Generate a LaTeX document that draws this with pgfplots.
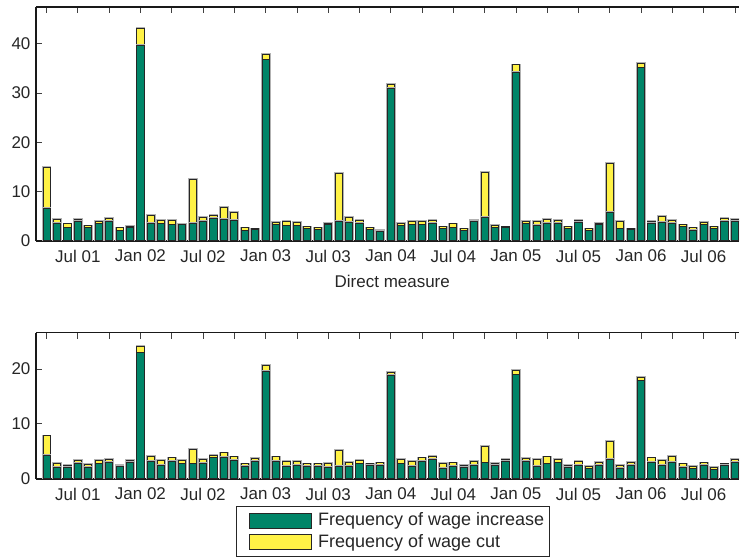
\documentclass[border=0pt]{standalone}
\usepackage{fontspec}
\setmainfont{Liberation Sans}
\usepackage{pgfplots}
\usepackage{pgfplotstable}
\pgfplotsset{compat=1.18}
\definecolor{incgreen}{RGB}{0,133,104}
\definecolor{cutyellow}{RGB}{255,242,70}

\pgfplotstableread{
i inc cut
0 6.6 8.3
1 3.6 0.8
2 2.6 0.8
3 3.9 0.4
4 2.6 0.4
5 3.4 0.6
6 3.9 0.6
7 2.0 0.6
8 2.6 0.3
9 39.7 3.4
10 3.6 1.6
11 3.4 0.7
12 3.2 0.9
13 3.3 0.1
14 3.6 8.9
15 4.0 0.8
16 4.6 0.5
17 4.4 2.4
18 4.1 1.6
19 2.0 0.6
20 2.2 0.2
21 36.7 1.2
22 3.2 0.6
23 3.0 0.9
24 3.0 0.7
25 2.4 0.4
26 2.2 0.4
27 3.2 0.3
28 3.9 9.7
29 3.8 1.0
30 3.6 0.5
31 2.2 0.4
32 1.9 0.2
33 31.0 0.7
34 3.0 0.6
35 3.2 0.8
36 3.2 0.7
37 3.6 0.5
38 2.4 0.4
39 2.6 0.8
40 2.0 0.4
41 4.0 0.2
42 4.8 9.1
43 2.6 0.5
44 2.6 0.2
45 34.1 1.6
46 3.4 0.45
47 3.1 0.9
48 3.5 0.8
49 3.6 0.6
50 2.4 0.4
51 3.7 0.5
52 2.0 0.4
53 3.2 0.3
54 5.7 10.0
55 2.4 1.5
56 2.2 0.2
57 35.1 0.9
58 3.6 0.4
59 3.65 1.25
60 3.5 0.55
61 2.8 0.4
62 2.1 0.5
63 3.2 0.5
64 2.4 0.4
65 4.0 0.5
66 4.0 0.4
}\toptable

\pgfplotstableread{
i inc cut
0 4.3 3.5
1 2.1 0.7
2 2.0 0.5
3 2.8 0.6
4 2.0 0.6
5 2.7 0.6
6 3.0 0.6
7 2.2 0.3
8 3.0 0.4
9 22.9 1.2
10 3.2 0.9
11 2.4 0.9
12 3.1 0.7
13 2.7 0.7
14 2.7 2.6
15 2.8 0.8
16 3.8 0.4
17 3.9 0.8
18 3.3 0.7
19 2.2 0.5
20 3.2 0.5
21 19.6 1.0
22 3.2 0.8
23 2.3 0.8
24 2.4 0.7
25 2.2 0.5
26 2.2 0.5
27 2.1 0.7
28 2.2 3.0
29 2.3 0.7
30 2.7 0.6
31 2.4 0.3
32 2.4 0.5
33 18.8 0.5
34 2.7 0.9
35 2.3 0.8
36 3.2 0.6
37 3.6 0.5
38 1.9 0.9
39 2.2 0.7
40 2.1 0.4
41 2.5 0.7
42 2.9 3.0
43 2.4 0.45
44 3.2 0.4
45 18.9 0.9
46 3.1 0.6
47 2.2 1.4
48 2.7 1.3
49 2.9 0.6
50 2.1 0.4
51 2.5 0.7
52 1.8 0.4
53 2.4 0.6
54 3.6 3.2
55 1.9 0.6
56 2.5 0.5
57 17.8 0.7
58 3.0 0.8
59 2.4 0.9
60 3.0 1.1
61 2.1 0.6
62 1.8 0.4
63 2.4 0.5
64 1.6 0.5
65 2.4 0.3
66 3.0 0.6
}\bottable

\pgfplotsset{
  panel/.style={
    scale only axis, width=704pt, anchor=south west,
    xmin=-1.02, xmax=66.41, ymin=0,
    axis x line*=box, axis y line*=left,
    ybar stacked, bar width=7.2pt,
    xtick={3,9,...,63},
    xticklabels={Jul 01,Jan 02,Jul 02,Jan 03,Jul 03,Jan 04,Jul 04,Jan 05,Jul 05,Jan 06,Jul 06},
    minor xtick={0,6,...,66},
    xtick pos=right, xticklabel pos=left,
    ytick pos=left,
    tick align=inside,
    major tick length=6.5pt, minor tick length=6.5pt,
    every tick/.style={black!75, line width=0.8pt},
    axis line style={line width=1.6pt, black!90, -},
    ticklabel style={font=\fontsize{17}{20}\selectfont, text=black!85},
    xticklabel style={yshift=-5.6pt},
    yticklabel style={xshift=-2pt},
    /pgf/number format/assume math mode=true,
  },
  incstyle/.style={fill=incgreen, draw=black!85, line width=1pt,
    preaction={draw=black!30, line width=2.6pt}, forget plot},
  cutstyle/.style={fill=cutyellow, draw=black!85, line width=1pt,
    preaction={draw=black!30, line width=2.6pt}, forget plot},
  legpatch/.style={legend image code/.code={
    \path[draw=none, fill=none] (0pt,-10.85pt) rectangle (75.8pt,10.85pt);
    \draw[##1, draw=black!85, line width=1pt] (6.8pt,-7.5pt) rectangle (68.8pt,7.5pt);
  }},
}

\begin{document}
\begin{tikzpicture}
\path (0pt,0pt) rectangle (740pt,558pt);
\begin{axis}[panel,
  at={(36pt,317pt)}, height=234pt, ymax=47.46,
  ytick={0,10,20,30,40},
  xlabel={Direct measure},
  xlabel style={at={(axis description cs:0.5,0)}, anchor=base, yshift=-46.5pt, xshift=4.7pt,
    font=\fontsize{17}{20}\selectfont, text=black!85},
]
\addplot[incstyle] table[x=i, y=inc] {\toptable};
\addplot[cutstyle] table[x=i, y=cut] {\toptable};
\end{axis}

\begin{axis}[panel,
  at={(36pt,78.7pt)}, height=146.3pt, ymax=26.6,
  ytick={0,10,20},
  legend cell align=left,
  legend style={at={(axis description cs:0.2851,-0.1873)}, anchor=north west,
    draw=black!85, line width=1pt, fill=white,
    inner xsep=5.5pt, inner ysep=3.3pt, row sep=0pt, column sep=0pt,
    nodes={inner sep=0pt, text depth=3.6pt},
    font=\fontsize{18}{21}\selectfont, text=black!85},
]
\addplot[incstyle] table[x=i, y=inc] {\bottable};
\addplot[cutstyle] table[x=i, y=cut] {\bottable};
\addlegendimage{legpatch, fill=incgreen}
\addlegendimage{legpatch, fill=cutyellow}
\legend{Frequency of wage increase, Frequency of wage cut}
\end{axis}
\end{tikzpicture}
\end{document}
